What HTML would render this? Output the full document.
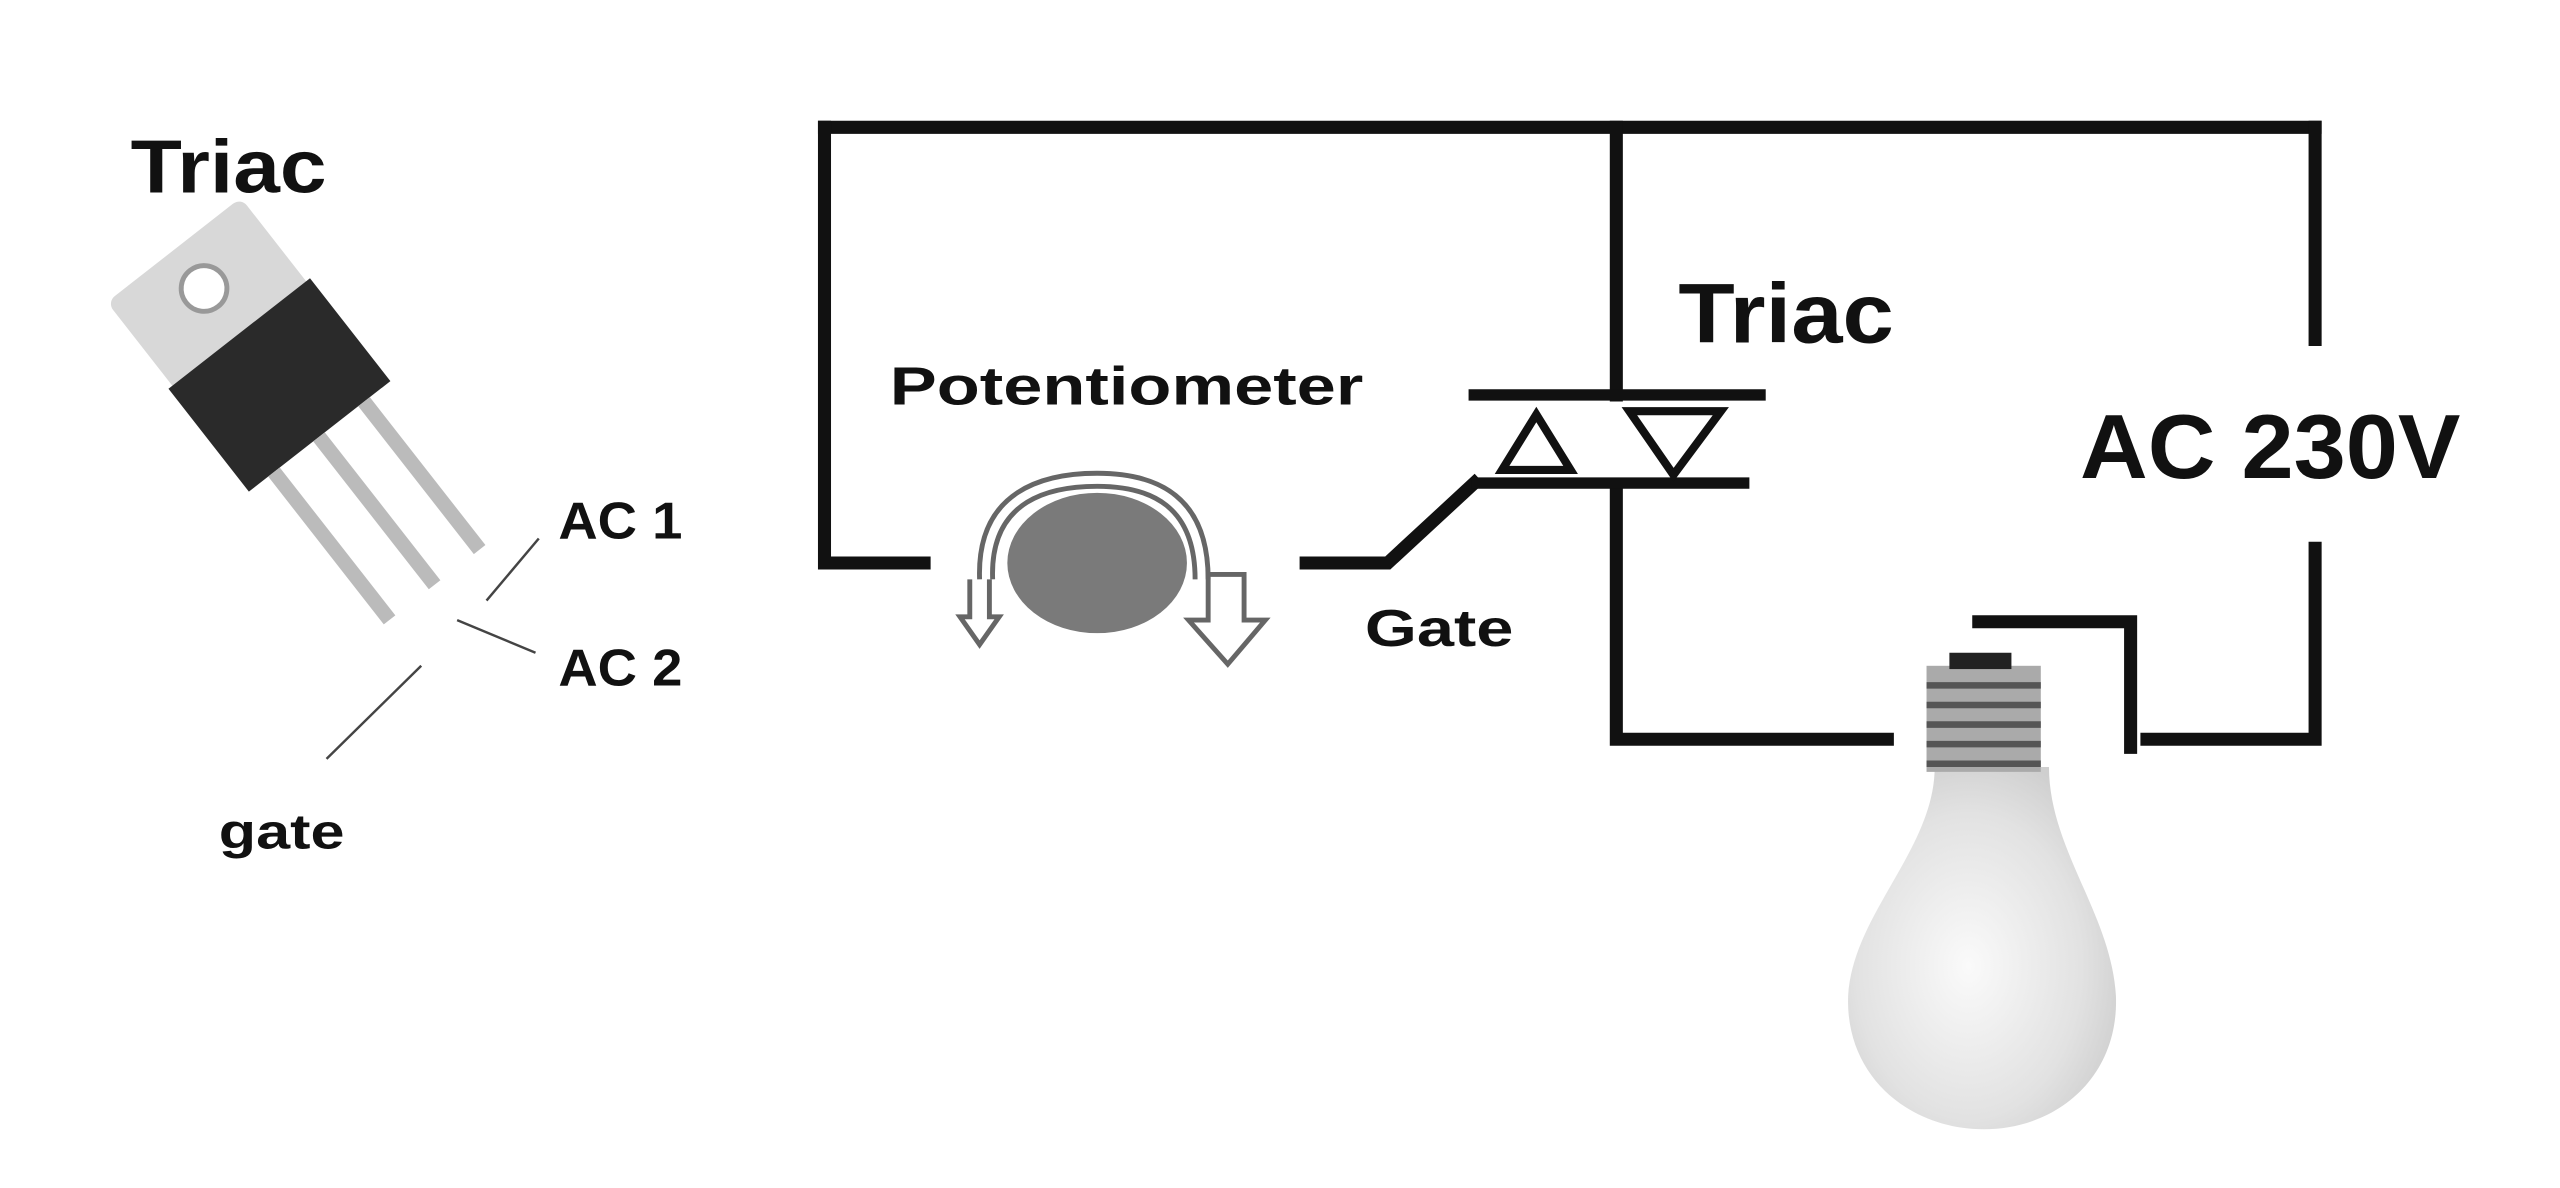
<!DOCTYPE html>
<html><head><meta charset="utf-8"><style>
html,body{margin:0;padding:0;background:#fff;width:2560px;height:1188px;overflow:hidden}
svg{display:block}
text{font-family:"Liberation Sans",sans-serif;font-weight:bold;fill:#111}
</style></head><body>
<svg width="2560" height="1188" viewBox="0 0 1568 728" preserveAspectRatio="none">
<defs>
<radialGradient id="bulb" cx="0.45" cy="0.55" r="0.6">
<stop offset="0" stop-color="#fafafa"/><stop offset="0.7" stop-color="#e2e2e2"/><stop offset="1" stop-color="#cfcfcf"/>
</radialGradient>
</defs>
<rect width="1568" height="728" fill="#fff"/>
<g stroke="#111" stroke-width="8" fill="none" stroke-linecap="square">
<path d="M505 78 H1418"/>
<path d="M505 78 V345 H566"/>
<path d="M990 78 V242"/>
<path d="M1418 78 V208"/>
<path d="M1418 336 V453 H1315"/>
<path d="M990 300 V453 H1156"/>
<path d="M1212 381 H1305 V458"/>
<path d="M800 345 H850 L903 296"/>
<path d="M903 242 H1078" stroke-width="7"/>
<path d="M905 296 H1068" stroke-width="7"/>
</g>
<g stroke="#111" stroke-width="5" fill="none">
<path d="M920 288 H962 L941 254 Z"/>
<path d="M998 252 H1054 L1025 291 Z"/>
</g>
<ellipse cx="672" cy="345" rx="55" ry="43" fill="#7a7a7a"/>
<g stroke="#666" stroke-width="3" fill="none">
<path d="M600 355 C598 300 640 290 672 290 C710 290 740 305 740 355"/>
<path d="M608 355 C606 305 645 298 672 298 C705 298 732 310 732 355"/>
<path d="M594 355 V378 H588 L600 395 L612 378 H606 V355"/>
<path d="M740 352 H762 V380 H775 L752 407 L728 380 H740 Z"/>
</g>
<path d="M1185 470 C1185 520 1135 560 1132 610 C1130 660 1170 692 1215 692 C1260 692 1298 660 1296 610 C1293 560 1255 520 1255 470 Z" fill="url(#bulb)"/>
<rect x="1180" y="408" width="70" height="65" fill="#aaa"/>
<g stroke="#555" stroke-width="4">
<path d="M1180 420 H1250 M1180 432 H1250 M1180 444 H1250 M1180 456 H1250 M1180 468 H1250"/>
</g>
<rect x="1194" y="400" width="38" height="10" fill="#222"/>
<g transform="translate(165,228) rotate(-38)">
<rect x="-52" y="-95" width="104" height="75" rx="6" fill="#d8d8d8"/>
<circle cx="0" cy="-65" r="14" fill="#fff" stroke="#999" stroke-width="3"/>
<rect x="-55" y="-30" width="110" height="80" fill="#2a2a2a"/>
<rect x="-40" y="50" width="9" height="115" fill="#bbb"/>
<rect x="-5" y="50" width="9" height="115" fill="#bbb"/>
<rect x="30" y="50" width="9" height="115" fill="#bbb"/>
</g>
<g stroke="#444" stroke-width="1.5" fill="none">
<path d="M298 368 L330 330"/>
<path d="M280 380 L328 400"/>
<path d="M258 408 L200 465"/>
</g>
<text x="80" y="118" font-size="46" textLength="120" lengthAdjust="spacingAndGlyphs">Triac</text>
<text x="342" y="330" font-size="32" textLength="76" lengthAdjust="spacingAndGlyphs">AC 1</text>
<text x="342" y="420" font-size="32" textLength="76" lengthAdjust="spacingAndGlyphs">AC 2</text>
<text x="134" y="520" font-size="30" textLength="77" lengthAdjust="spacingAndGlyphs">gate</text>
<text x="545" y="248" font-size="33" textLength="290" lengthAdjust="spacingAndGlyphs">Potentiometer</text>
<text x="1028" y="210" font-size="52" textLength="132" lengthAdjust="spacingAndGlyphs">Triac</text>
<text x="1274" y="293" font-size="56" textLength="233" lengthAdjust="spacingAndGlyphs">AC 230V</text>
<text x="836" y="396" font-size="32" textLength="91" lengthAdjust="spacingAndGlyphs">Gate</text>
</svg>
</body></html>
